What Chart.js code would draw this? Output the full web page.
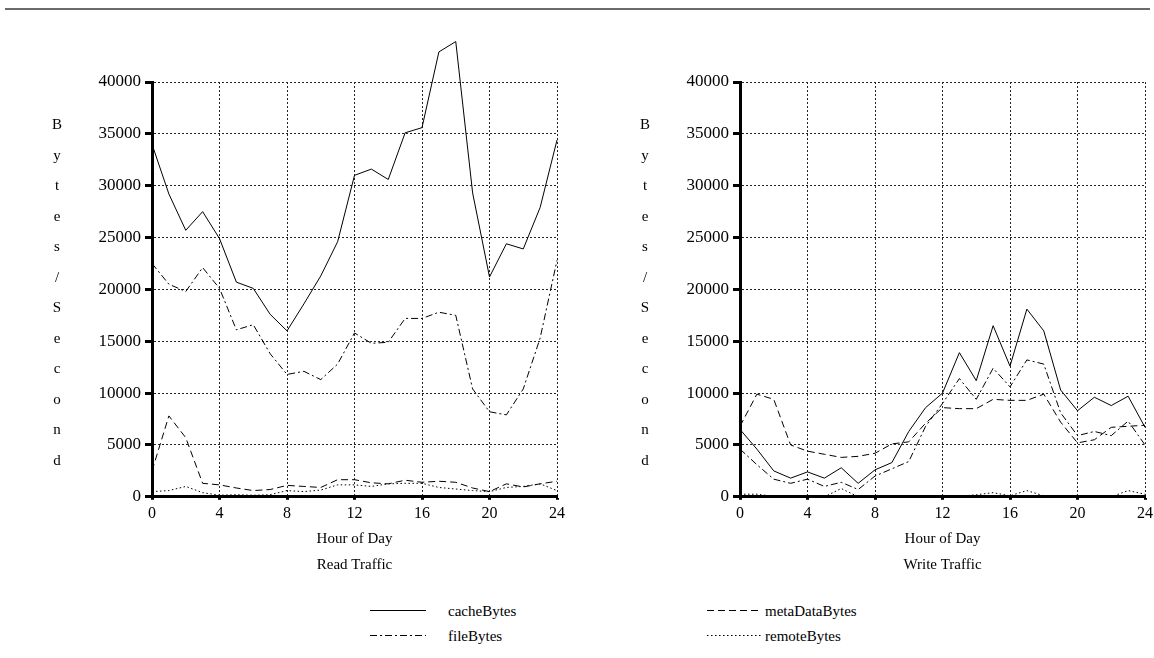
<!DOCTYPE html>
<html>
<head>
<meta charset="utf-8">
<script src="https://cdn.jsdelivr.net/npm/chart.js@4/dist/chart.umd.min.js"></script>
<style>
  body { margin: 0; background: #fff; overflow: hidden; font-family: 'Liberation Serif', serif; color: #000; }
  .wrap { position: relative; width: 1154px; height: 658px; overflow: hidden; }
  canvas { position: absolute; top: 0; }
  .topline { position: absolute; left: 5px; top: 8px; width: 1145px; height: 2px; background: #6a6a6a; }
  .ylab { position: absolute; top: 109px; width: 20px; text-align: center; font-size: 15px; line-height: 30.5px; }
  .leg { position: absolute; font-size: 15px; line-height: 18px; }
  .legline { position: absolute; }
</style>
</head>
<body>
<div class="wrap">
  <div class="topline"></div>
  <canvas id="readChart" width="569" height="590" style="left:0px"></canvas>
  <canvas id="writeChart" width="569" height="590" style="left:588px"></canvas>
  <div class="ylab" style="left:47px">B<br>y<br>t<br>e<br>s<br>/<br>S<br>e<br>c<br>o<br>n<br>d</div>
  <div class="ylab" style="left:635px">B<br>y<br>t<br>e<br>s<br>/<br>S<br>e<br>c<br>o<br>n<br>d</div>

  <svg class="legline" style="left:370px;top:605px" width="56" height="36">
    <line x1="0" y1="5.5" x2="56" y2="5.5" stroke="#000" stroke-width="1"/>
    <line x1="0" y1="30.5" x2="56" y2="30.5" stroke="#000" stroke-width="1" stroke-dasharray="7 3 2 3"/>
  </svg>
  <div class="leg" style="left:448px;top:602px">cacheBytes</div>
  <div class="leg" style="left:448px;top:627px">fileBytes</div>
  <svg class="legline" style="left:707px;top:605px" width="54" height="36">
    <line x1="0" y1="5.5" x2="54" y2="5.5" stroke="#000" stroke-width="1" stroke-dasharray="7 4"/>
    <line x1="0" y1="30.5" x2="54" y2="30.5" stroke="#000" stroke-width="1" stroke-dasharray="1.5 2.5"/>
  </svg>
  <div class="leg" style="left:765px;top:602px">metaDataBytes</div>
  <div class="leg" style="left:765px;top:627px">remoteBytes</div>
</div>
<script>
// hour of day, one sample per hour
const hours = [0, 1, 2, 3, 4, 5, 6, 7, 8, 9, 10, 11, 12, 13, 14, 15, 16, 17, 18, 19, 20, 21, 22, 23, 24];

// read traffic (bytes/second)
const readCache    = [34000, 29200, 25700, 27500, 24900, 20700, 20100, 17600, 16000, 18600, 21300, 24600, 31000, 31600, 30600, 35100, 35600, 42900, 43900, 29300, 21200, 24400, 23900, 27900, 34400];
const readFile     = [22500, 20500, 19800, 22100, 20100, 16100, 16600, 13800, 11800, 12100, 11300, 12800, 15800, 14800, 14900, 17200, 17200, 17800, 17500, 10400, 8200, 7900, 10400, 15300, 22800];
const readMeta     = [2500, 7800, 5700, 1300, 1150, 850, 600, 700, 1100, 1000, 900, 1650, 1650, 1350, 1250, 1600, 1400, 1500, 1400, 850, 500, 1250, 950, 1250, 1500];
const readRemote   = [500, 600, 1000, 400, 150, 200, 150, 200, 600, 500, 650, 1150, 1150, 1000, 1250, 1300, 1300, 900, 750, 600, 500, 900, 1000, 1250, 600];

// write traffic (bytes/second)
const writeCache   = [6500, 4600, 2500, 1800, 2400, 1800, 2800, 1300, 2600, 3300, 6300, 8600, 10000, 13900, 11200, 16500, 12600, 18100, 16000, 10300, 8300, 9600, 8800, 9700, 6700];
const writeFile    = [4600, 3100, 1700, 1300, 1700, 1000, 1400, 700, 2000, 2700, 3400, 6800, 9000, 11400, 9400, 12400, 10600, 13200, 12800, 8100, 5900, 6300, 5900, 7300, 5000];
const writeMeta    = [6800, 9900, 9400, 5000, 4400, 4100, 3800, 3900, 4200, 5100, 5300, 7100, 8600, 8500, 8500, 9400, 9300, 9300, 9900, 7200, 5200, 5500, 6700, 6800, 6900];
const writeRemote  = [250, 250, 50, 0, 0, 0, 800, 0, 0, 0, 0, 0, 50, 50, 200, 400, 100, 600, 100, 50, 0, 0, 0, 600, 250];

const seriesNames = ['cacheBytes', 'fileBytes', 'metaDataBytes', 'remoteBytes'];
const dashes = [[], [7, 3, 2, 3], [7, 4], [1.5, 2.5]];

Chart.defaults.font.family = "'Liberation Serif', serif";
Chart.defaults.font.size = 16;
Chart.defaults.color = '#000';

function pts(vals) {
  return hours.map((h, i) => ({ x: h, y: vals[i] }));
}

function makeChart(id, title, cache, file, meta, remote) {
  const all = [cache, file, meta, remote];
  return new Chart(document.getElementById(id), {
    type: 'line',
    data: {
      datasets: all.map((vals, i) => ({
        label: seriesNames[i],
        data: pts(vals),
        borderColor: '#000',
        borderWidth: 1,
        borderDash: dashes[i],
        pointRadius: 0,
        tension: 0,
        fill: false,
        clip: false
      }))
    },
    options: {
      responsive: false,
      animation: false,
      layout: { padding: { top: 82, right: 7, left: 0, bottom: 16 } },
      plugins: {
        legend: { display: false },
        tooltip: { enabled: false },
        title: {
          display: true,
          text: title,
          position: 'bottom',
          fullSize: false,
          font: { size: 15, weight: 'normal' },
          padding: { top: 8, bottom: 0 }
        }
      },
      scales: {
        x: {
          type: 'linear',
          min: 0,
          max: 24,
          ticks: { stepSize: 4, padding: 4, maxRotation: 0 },
          grid: { color: '#222', lineWidth: 1, tickLength: 3, tickWidth: 3, tickColor: '#000' },
          border: { display: true, color: '#000', width: 3, dash: [2, 2] },
          title: { display: true, text: 'Hour of Day', font: { size: 15 }, padding: { top: 3, bottom: 0 } }
        },
        y: {
          min: 0,
          max: 40000,
          ticks: { stepSize: 5000, padding: 4, font: { size: 17 }, callback: v => String(v) },
          grid: { color: '#222', lineWidth: 1, tickLength: 7, tickWidth: 3, tickColor: '#000' },
          border: { display: true, color: '#000', width: 3, dash: [2, 2] },
          afterFit: s => { s.width = 152; }
        }
      }
    }
  });
}

makeChart('readChart', 'Read Traffic', readCache, readFile, readMeta, readRemote);
makeChart('writeChart', 'Write Traffic', writeCache, writeFile, writeMeta, writeRemote);
</script>
</body>
</html>
